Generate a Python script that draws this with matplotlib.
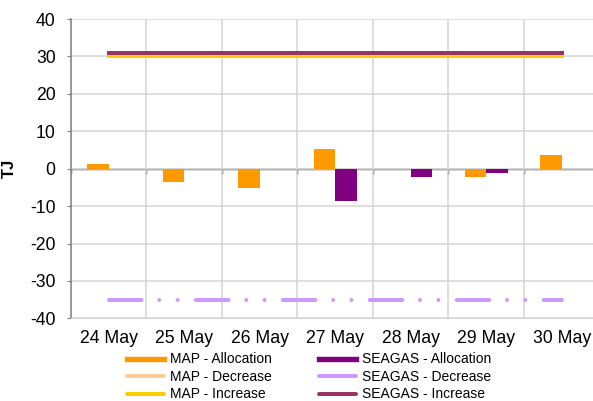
import numpy as np
import matplotlib
matplotlib.use('Agg')
import matplotlib.pyplot as plt
from matplotlib.lines import Line2D

plt.rcParams['font.family'] = ['Liberation Sans', 'DejaVu Sans']
plt.rcParams['lines.scale_dashes'] = False
plt.rcParams['axes.unicode_minus'] = False

dates = ['24 May', '25 May', '26 May', '27 May', '28 May', '29 May', '30 May']
map_alloc = [1.3, -3.5, -5.2, 5.3, -0.1, -2.1, 3.6]
seagas_alloc = [0, 0, 0, -8.5, -2.1, -1.15, 0]
map_decrease = [np.nan] * 7
seagas_decrease = [-35, -35, -35, -35, -35, -35, -35]
map_increase = [30, 30, 30, 30, 30, 30, 30]
seagas_increase = [31, 31, 31, 31, 31, 31, 31]
yticks = [-40, -30, -20, -10, 0, 10, 20, 30, 40]

c_map = '#FF9900'
c_seagas = '#800080'
c_map_dec = '#FFCC99'
c_seagas_dec = '#CC99FF'
c_map_inc = '#FFCC00'
c_seagas_inc = '#993366'

fig = plt.figure(figsize=(5.93, 4.01), dpi=100)
ax = fig.add_axes([0.1197, 0.206, 0.8912, 0.7466])

x = np.arange(len(dates))
w = 0.287
lw = 2.88

ax.bar(x - w, map_alloc, width=w, align='edge', color=c_map, zorder=3)
ax.bar(x, seagas_alloc, width=w, align='edge', color=c_seagas, zorder=3)

ax.plot(x, map_decrease, color=c_map_dec, lw=lw, zorder=4)
ax.plot(x, map_increase, color=c_map_inc, lw=lw, solid_capstyle='projecting', zorder=4)
ax.plot(x, seagas_decrease, color=c_seagas_dec, lw=lw, dash_capstyle='round',
        dashes=(23.47, 12.74, 0.01, 13.18, 0.01, 13.18), zorder=4)
ax.plot(x, seagas_increase, color=c_seagas_inc, lw=lw, solid_capstyle='projecting', zorder=5)

ax.set_xlim(-0.5, len(dates) - 0.5)
ax.set_ylim(-40, 40)
ax.set_yticks(yticks)
ax.set_xticks(x)
ax.set_xticklabels(dates)
ax.set_xticks(np.arange(len(dates) + 1) - 0.5, minor=True)
ax.tick_params(axis='x', which='both', length=0, labelsize=12.7, pad=8)
ax.tick_params(axis='y', length=3.1, color='#808080', labelsize=12.7, pad=8)
ax.grid(axis='y', color='#d4d4d4', lw=1.1, zorder=0)
ax.grid(axis='x', which='minor', color='#d4d4d4', lw=1.1, zorder=0)
ax.grid(axis='x', which='major', visible=False)

for s in ['top', 'right']:
    ax.spines[s].set_visible(False)
ax.spines['bottom'].set_color('#d4d4d4')
ax.spines['left'].set_color('#808080')
ax.spines['left'].set_linewidth(1.1)

# horizontal axis crossing at zero
zax = ax.secondary_xaxis(0, transform=ax.transData)
zax.set_xticks(np.arange(len(dates) + 1) - 0.5)
zax.set_xticklabels([])
zax.tick_params(direction='out', length=3.6, color='#404040', width=1)
zax.spines['bottom'].set_color('#404040')
zax.spines['bottom'].set_linewidth(1)

ax.set_ylabel('TJ', fontsize=12, fontweight='bold')
ax.yaxis.set_label_coords(-0.102, 0.5)

handles = [
    Line2D([], [], color=c_map, lw=3.9),
    Line2D([], [], color=c_map_dec, lw=lw, solid_capstyle='round'),
    Line2D([], [], color=c_map_inc, lw=lw, solid_capstyle='round'),
    Line2D([], [], color=c_seagas, lw=3.9),
    Line2D([], [], color=c_seagas_dec, lw=lw, solid_capstyle='round'),
    Line2D([], [], color=c_seagas_inc, lw=lw, solid_capstyle='round'),
]
labels = ['MAP - Allocation', 'MAP - Decrease', 'MAP - Increase',
          'SEAGAS - Allocation', 'SEAGAS - Decrease', 'SEAGAS - Increase']
fig.legend(handles, labels, loc='center', bbox_to_anchor=(0.521, 0.06), ncol=2,
           frameon=False, fontsize=10, handlelength=2.7, handletextpad=0.4,
           columnspacing=3.4, labelspacing=0.25, borderpad=0)

fig.savefig('out.png', dpi=100)
